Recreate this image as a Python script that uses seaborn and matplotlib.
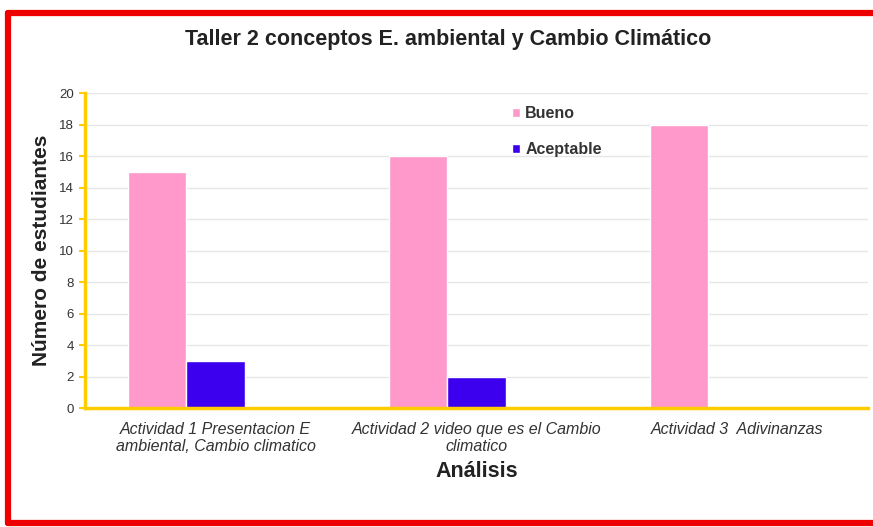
import matplotlib
matplotlib.use("Agg")
import matplotlib.pyplot as plt
import seaborn as sns
import pandas as pd
from matplotlib.lines import Line2D
from matplotlib.patches import Patch

# ---------------- data ----------------
actividades = [
    "Actividad 1 Presentacion E\nambiental, Cambio climatico",
    "Actividad 2 video que es el Cambio\nclimatico",
    "Actividad 3  Adivinanzas",
]
bueno = [15, 16, 18]
aceptable = [3, 2, 0]
otro = [0, 0, 0]  # third (empty) series, keeps the bar slots like the original
series = ["Bueno", "Aceptable", "Insuficiente"]
colores = ["#FF99CC", "#3D00EE", "#FFCC00"]

df = pd.DataFrame({
    "Actividad": actividades * 3,
    "Nivel": ["Bueno"] * 3 + ["Aceptable"] * 3 + ["Insuficiente"] * 3,
    "Estudiantes": bueno + aceptable + otro,
})

# ---------------- figure ----------------
sns.set_theme(style="white")
plt.rcParams["font.family"] = ["Liberation Sans", "DejaVu Sans"]

fig = plt.figure(figsize=(8.73, 5.27), dpi=100)
ax = fig.add_axes([0.0974, 0.2258, 0.8966, 0.5977])

sns.barplot(data=df, x="Actividad", y="Estudiantes", hue="Nivel",
            hue_order=series, palette=colores, width=0.67,
            saturation=1, ax=ax, legend=False)

ax.set_ylim(0, 20)
ax.set_xlim(-0.5, 2.5)
ax.set_yticks(range(0, 21, 2))
ax.yaxis.grid(True, color="#E6E6E6", linewidth=1)
ax.set_axisbelow(True)

for s in ["top", "right"]:
    ax.spines[s].set_visible(False)
for s in ["left", "bottom"]:
    ax.spines[s].set_color("#FFCC00")
    ax.spines[s].set_linewidth(2.5)

ax.tick_params(axis="y", length=4, width=1.5, color="#FFCC00",
               labelsize=9.5, labelcolor="#333333", pad=4, left=True)
ax.tick_params(axis="x", length=0, labelsize=11.5, labelcolor="#333333", pad=10)
for lbl in ax.get_xticklabels():
    lbl.set_fontstyle("italic")
    lbl.set_linespacing(1.15)

ax.set_ylabel("Número de estudiantes", fontsize=15, fontweight="bold",
              color="#222222", labelpad=6)
ax.set_xlabel("Análisis", fontsize=15.5, fontweight="bold",
              color="#222222", labelpad=5)

fig.text(0.513, 0.925, "Taller 2 conceptos E. ambiental y Cambio Climático",
         ha="center", va="center", fontsize=15.5, fontweight="bold",
         color="#222222")

handles = [Patch(facecolor=colores[0]), Patch(facecolor=colores[1])]
leg = ax.legend(handles, ["Bueno", "Aceptable"], loc="upper left",
                bbox_to_anchor=(0.545, 0.958), frameon=False,
                borderpad=0, borderaxespad=0,
                handlelength=0.55, handleheight=0.55, handletextpad=0.3,
                labelspacing=1.3,
                prop={"weight": "bold", "size": 11.5})
for t in leg.get_texts():
    t.set_color("#333333")

# red frame around the chart
red = "#EE0000"
fig.add_artist(Line2D([0.0095, 0.0095], [0.0075, 0.975], color=red,
                      linewidth=4.5, transform=fig.transFigure))
fig.add_artist(Line2D([0.0095, 1.0], [0.975, 0.975], color=red,
                      linewidth=4.5, transform=fig.transFigure))
fig.add_artist(Line2D([0.0095, 1.0], [0.0075, 0.0075], color=red,
                      linewidth=4.5, transform=fig.transFigure))

fig.savefig("out.png", dpi=100)
